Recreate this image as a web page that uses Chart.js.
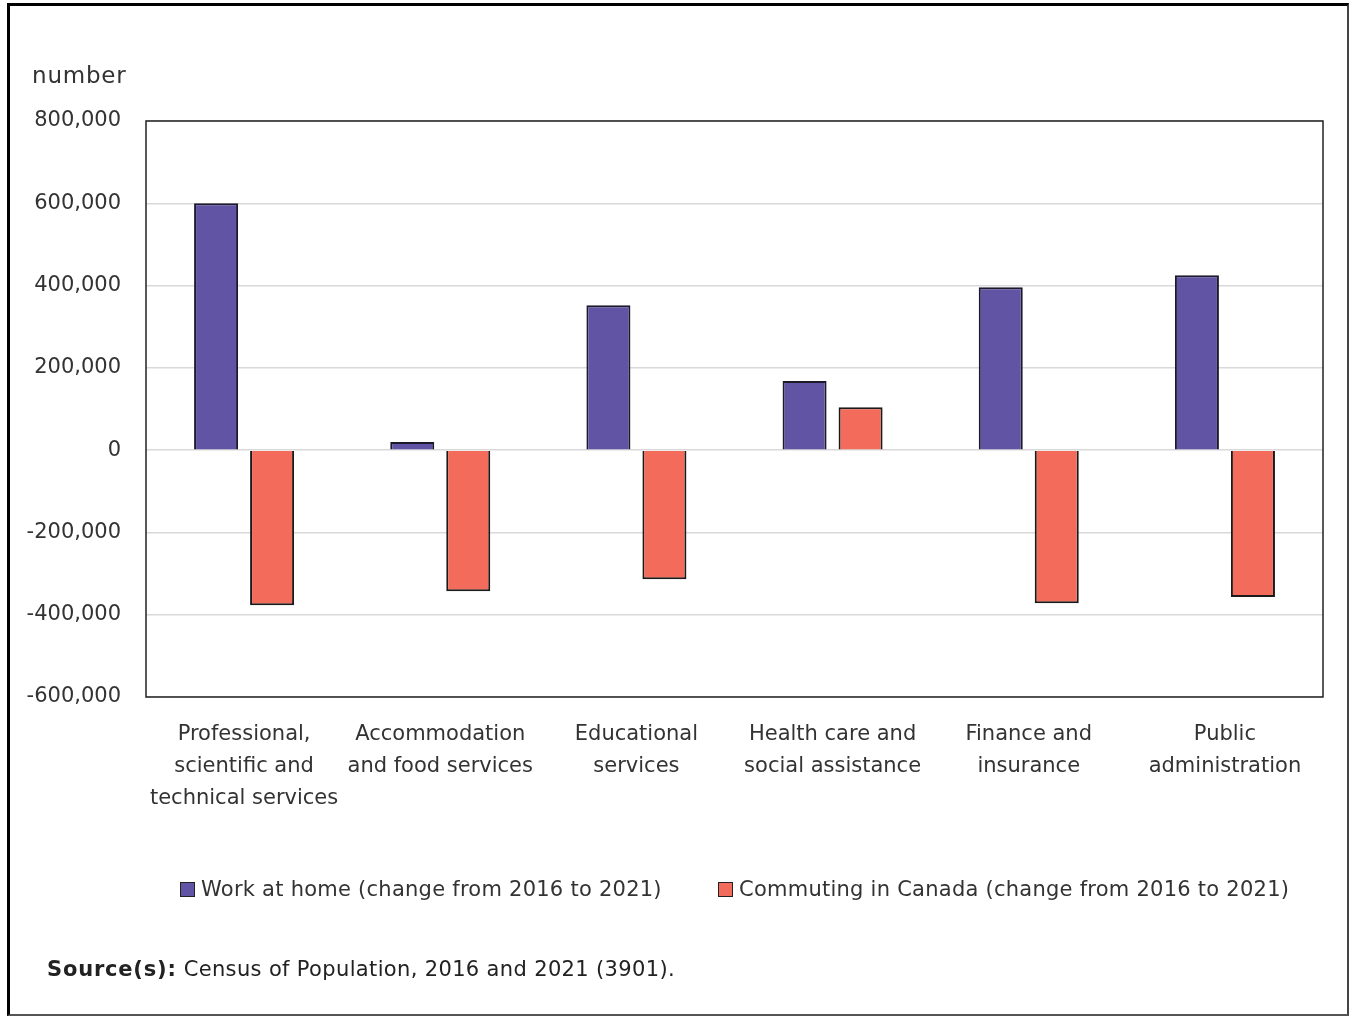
<!DOCTYPE html>
<html>
<head>
<meta charset="utf-8">
<script src="https://cdn.jsdelivr.net/npm/chart.js@4"></script>
<style>
  html, body { margin: 0; padding: 0; background: #fff; }
  #frame {
    position: absolute; left: 7px; top: 3px; width: 1337px; height: 1008px;
    border-left: 3px solid #000; border-top: 3px solid #000;
    border-right: 2px solid #444; border-bottom: 2px solid #555;
  }
  #chart { position: absolute; left: 0; top: 0; }
  .txt { position: absolute; font-family: "DejaVu Sans", Verdana, sans-serif; color: #333; white-space: nowrap; }
  #unit { left: 32px; top: 62px; font-size: 23px; letter-spacing: 0.8px; }
  #legend { top: 877px; left: 0; width: 1350px; font-size: 21px; letter-spacing: 0.25px; }
  .item { position: absolute; top: 0; }
  .box { display: inline-block; width: 13px; height: 13px; border: 1px solid #222; margin-right: 6px; vertical-align: -1px; }
  #source { left: 47px; top: 957px; font-size: 21px; color: #222; letter-spacing: 0.35px; }
  #source b { letter-spacing: 0.8px; }
</style>
</head>
<body>
<div id="frame"></div>
<canvas id="chart" width="1350" height="1017"></canvas>
<div class="txt" id="unit">number</div>
<div class="txt" id="legend"></div>
<div class="txt" id="source"><b>Source(s):</b> Census of Population, 2016 and 2021 (3901).</div>
<script>
// industrias
const industries = [
  ["Professional,", "scientific and", "technical services"],
  ["Accommodation", "and food services"],
  ["Educational", "services"],
  ["Health care and", "social assistance"],
  ["Finance and", "insurance"],
  ["Public", "administration"]
];

// cambio 2016 a 2021
const workAtHome = [600000, 20000, 352000, 168000, 396000, 425000];
const commuting = [-377000, -343000, -314000, 104000, -372000, -357000];

const seriesNames = [
  "Work at home (change from 2016 to 2021)",
  "Commuting in Canada (change from 2016 to 2021)"
];
const seriesColors = ["#6254a4", "#f36c5b"];

// eje y
const yMin = -600000;
const yMax = 800000;
const yStep = 200000;

const font = { family: "DejaVu Sans", size: 21 };

// marco del area de la grafica
const plotBorder = {
  id: "plotBorder",
  afterDraw(chart) {
    const a = chart.chartArea;
    const ctx = chart.ctx;
    ctx.save();
    ctx.strokeStyle = "#222";
    ctx.lineWidth = 1.5;
    ctx.strokeRect(a.left, a.top, a.right - a.left, a.bottom - a.top);
    ctx.restore();
  }
};

const ctx = document.getElementById("chart").getContext("2d");

const chart = new Chart(ctx, {
  type: "bar",
  data: {
    labels: industries,
    datasets: [
      {
        label: seriesNames[0],
        data: workAtHome,
        backgroundColor: seriesColors[0],
        borderColor: "#1a1a2a",
        borderWidth: 2
      },
      {
        label: seriesNames[1],
        data: commuting,
        backgroundColor: seriesColors[1],
        borderColor: "#1a1a1a",
        borderWidth: 2
      }
    ]
  },
  options: {
    responsive: false,
    animation: false,
    categoryPercentage: 0.571,
    barPercentage: 0.786,
    layout: { padding: { left: 0, top: 121, right: 27, bottom: 200 } },
    plugins: {
      legend: { display: false },
      tooltip: { enabled: false }
    },
    scales: {
      x: {
        grid: { display: false, drawTicks: false },
        border: { display: false },
        ticks: {
          color: "#333",
          font: { family: "DejaVu Sans", size: 21, lineHeight: 1.52 },
          padding: 22,
          maxRotation: 0,
          autoSkip: false
        },
        afterFit(scale) { scale.height = 120; }
      },
      y: {
        min: yMin,
        max: yMax,
        grid: { color: "#d9d9d9", lineWidth: 1.5, drawTicks: false },
        border: { display: false },
        ticks: {
          stepSize: yStep,
          color: "#333",
          font: font,
          padding: 25,
          callback: (v) => v.toLocaleString("en-US")
        },
        afterFit(scale) { scale.width = 146; }
      }
    }
  },
  plugins: [plotBorder]
});

// leyenda
const legend = document.getElementById("legend");
const legendX = [180, 718];
chart.data.datasets.forEach((ds, i) => {
  const item = document.createElement("span");
  item.className = "item";
  item.style.left = legendX[i] + "px";
  item.innerHTML = '<span class="box" style="background:' + ds.backgroundColor + '"></span>' + ds.label;
  legend.appendChild(item);
});
</script>
</body>
</html>
